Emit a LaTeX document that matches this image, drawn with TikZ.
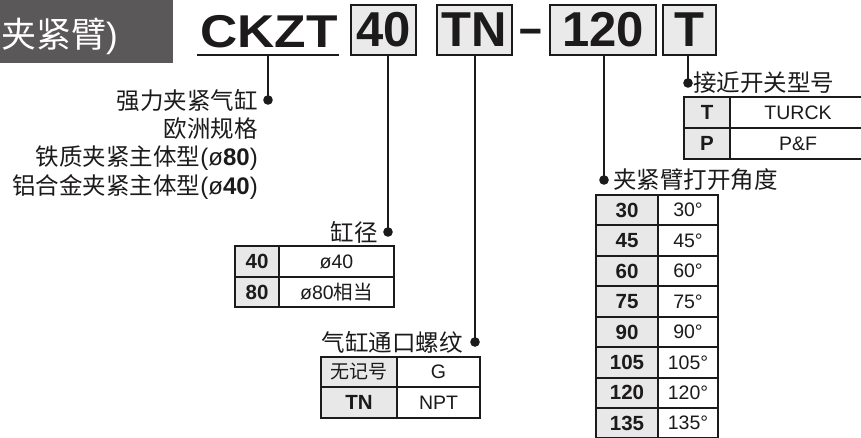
\documentclass[tikz,border=0pt]{standalone}
\usepackage{fontspec}
\setmainfont{Liberation Sans}
\newfontfamily\cjk{Noto Sans CJK SC}
\newfontfamily\lat{Liberation Sans}
\definecolor{ink}{HTML}{1C1A1B}
\definecolor{cellgray}{HTML}{E7E8E7}
\definecolor{boxgray}{HTML}{E9EAE9}
\definecolor{hdrgray}{HTML}{5A5859}
\begin{document}
\begin{tikzpicture}[x=1pt,y=-1pt,
  codebox/.style={draw=ink, line width=2.4pt, fill=boxgray, inner sep=0pt, outer sep=0pt,
    anchor=north west, text=ink, font=\lat\bfseries\fontsize{49}{49}\selectfont},
  keycell/.style={draw=ink, line width=2pt, fill=cellgray, inner sep=0pt, outer sep=0pt,
    anchor=north west, text=ink, font=\lat\bfseries\fontsize{20.5}{20.5}\selectfont},
  valcell/.style={draw=ink, line width=2pt, fill=white, inner sep=0pt, outer sep=0pt,
    anchor=north west, text=ink, font=\lat\fontsize{19.5}{19.5}\selectfont},
  lbl/.style={inner sep=0pt, text=ink, font=\cjk\fontsize{23.5}{28}\selectfont},
  conn/.style={draw=ink, line width=2.6pt},
  dotmark/.style={fill=ink}
]
\useasboundingbox (0,0) rectangle (861,437);

% header
\node[fill=hdrgray, minimum width=173, minimum height=63, inner sep=0pt, outer sep=0pt, anchor=north west] (hdr) at (0,0) {};
\node[anchor=east, inner sep=0pt, text=white, font=\cjk\fontsize{35}{35}\selectfont] (hdrtext) at (118,36) {夹紧臂{\lat )}};

% code
\node[anchor=base west, inner sep=0pt, xscale=1.12, text=ink, font=\lat\bfseries\fontsize{46}{46}\selectfont] (ckzt) at (200,47) {CKZT};
\draw[line width=2.5pt, ink] (197,55) -- (339,55);
\coordinate (ul) at (268,55);

\node[codebox, minimum width=65, minimum height=50] (b40) at (351,5) {40};
\node[codebox, minimum width=75, minimum height=50] (bTN) at (437,5) {TN};
\node[anchor=base, inner sep=0pt, xscale=0.85, text=ink, font=\lat\bfseries\fontsize{48}{48}\selectfont] (dash) at (531,44) {–};
\node[codebox, minimum width=106, minimum height=50] (b120) at (550,5) {120};
\node[codebox, minimum width=53, minimum height=50] (bT) at (663,5) {T};

% dots
\coordinate (dA) at (268,100);
\coordinate (dB) at (388,232);
\coordinate (dC) at (475,342);
\coordinate (dD) at (604,180);
\coordinate (dE) at (688,83);

\draw[conn] (ul) -- (dA);
\draw[conn] (b40.south -| dB) -- (dB);
\draw[conn] (bTN.south -| dC) -- (dC);
\draw[conn] (b120.south -| dD) -- (dD);
\draw[conn] (bT.south -| dE) -- (dE);
\foreach \d in {dA,dB,dC,dD,dE} \fill[dotmark] (\d) circle[radius=4.8pt];

% left labels
\node[lbl, anchor=east] (l1) at (258,100) {强力夹紧气缸};
\node[lbl, anchor=east] (l2) at (258,129) {欧洲规格};
\node[lbl, anchor=east] (l3) at (258,158) {铁质夹紧主体型{\lat\fontsize{24}{28}\selectfont(ø\textbf{80})}};
\node[lbl, anchor=east] (l4) at (258,187) {铝合金夹紧主体型{\lat\fontsize{24}{28}\selectfont(ø\textbf{40})}};

% bore
\node[lbl, anchor=east] (lbore) at (378,232) {缸径};
\node[keycell, minimum width=44, minimum height=31] (k40) at (235,246) {40};
\node[valcell, minimum width=115, minimum height=31] (v40) at (279,246) {ø40};
\node[keycell, minimum width=44, minimum height=30] (k80) at (235,277) {80};
\node[valcell, minimum width=115, minimum height=30] (v80) at (279,277) {ø80{\cjk 相当}};

% port thread
\node[lbl, anchor=east] (lport) at (463,342) {气缸通口螺纹};
\node[keycell, minimum width=76, minimum height=30, font=\cjk\fontsize{19}{19}\selectfont] (kG) at (321,357) {无记号};
\node[valcell, minimum width=83, minimum height=30] (vG) at (397,357) {G};
\node[keycell, minimum width=76, minimum height=31] (kTN) at (321,387) {TN};
\node[valcell, minimum width=83, minimum height=31] (vTN) at (397,387) {NPT};

% switch
\node[lbl, anchor=west] (lsw) at (693,83) {接近开关型号};
\node[keycell, minimum width=46, minimum height=31] (kT) at (684,97) {T};
\node[valcell, minimum width=146, minimum height=31] (vT) at (730,97) {\hspace*{-10pt}TURCK};
\node[keycell, minimum width=46, minimum height=31] (kP) at (684,128) {P};
\node[valcell, minimum width=146, minimum height=31] (vP) at (730,128) {\hspace*{-10pt}P\&F};

% angle
\node[lbl, anchor=west] (lang) at (613,180) {夹紧臂打开角度};
\foreach \k [count=\i from 0] in {30,45,60,75,90,105,120,135}{
  \node[keycell, minimum width=62, minimum height=30.43] (ak\k) at (596,{195+30.43*\i}) {\k};
  \node[valcell, minimum width=60, minimum height=30.43] (av\k) at (658,{195+30.43*\i}) {\k°};
}
\end{tikzpicture}
\end{document}
